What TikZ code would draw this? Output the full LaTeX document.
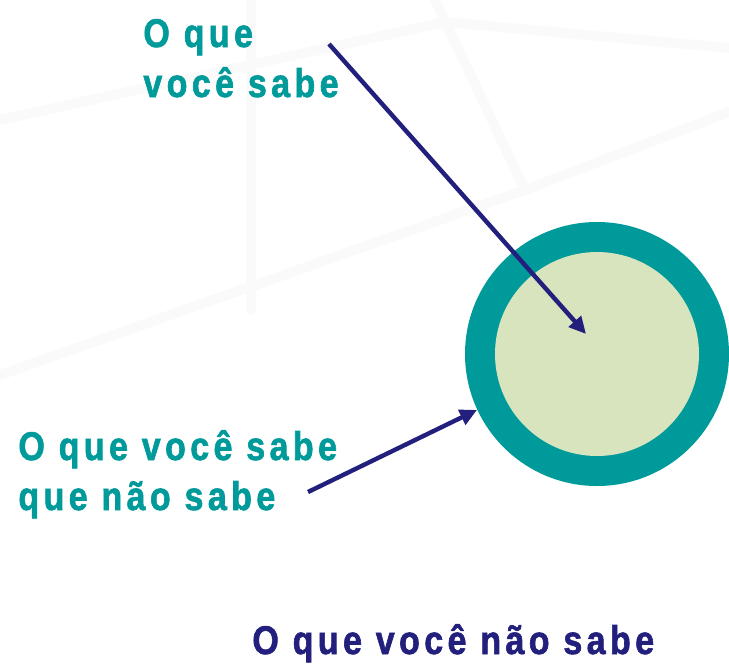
\documentclass[tikz,border=0pt]{standalone}
\usepackage{fontspec}
\usepackage{tikz}
\usetikzlibrary{positioning,arrows.meta}
\newfontfamily\labfont{Liberation Sans}[FakeStretch=0.85,LetterSpace=11,FakeBold=1.5]
\definecolor{tealc}{HTML}{009A9A}
\definecolor{paleg}{HTML}{D8E4BE}
\definecolor{navyc}{HTML}{231F7D}
\tikzset{
  lab/.style={inner sep=0pt,align=left,font=\labfont\bfseries\fontsize{20}{25}\selectfont},
  ptr/.style={navyc,line width=2.2pt,-{Triangle[length=8.5pt,width=8pt]}},
  faint/.style={black!2,line width=5pt,line cap=round}
}
\begin{document}
\begin{tikzpicture}[x=0.5pt,y=-0.5pt]
    \useasboundingbox (0,0) rectangle (729,665);
    % watermark in the background
    \draw[faint] (435,0) -- (525,190) -- (729,112);
    \draw[faint] (0,375) -- (525,190);
    \draw[faint] (0,120) -- (445,22) -- (729,48);
    \draw[faint] (251,0) -- (251,310);
    \node[circle,fill=tealc,minimum size=132pt,inner sep=0pt] (outer) at (597,354) {};
    \node[circle,fill=paleg,minimum size=102pt,inner sep=0pt] (inner) at (597,354) {};
    \node[lab,text=tealc,anchor=base west] (lab1) at (143,97) {O que\\você sabe};
    \node[lab,text=tealc,anchor=base west] (lab2) at (18,510) {O que você sabe\\que não sabe};
    \node[lab,text=navyc,anchor=base west] (lab3) at (252,654) {O que você não sabe};
    \coordinate (s1) at (329,44);
    \coordinate (t1) at (586,334);
    \coordinate (s2) at (308,492);
    \draw[ptr] (s1) -- (t1);
    \draw[ptr] (s2) -- (outer.205);
  \end{tikzpicture}
\end{document}
